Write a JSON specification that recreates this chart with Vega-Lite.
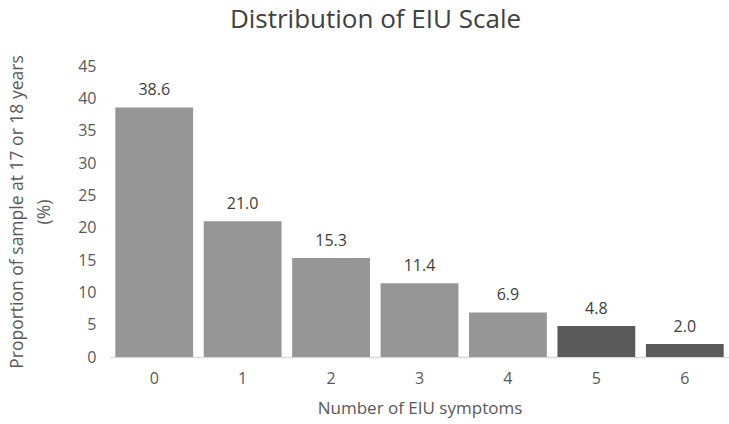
{
  "$schema": "https://vega.github.io/schema/vega-lite/v6.json",
  "autosize": "none",
  "width": 619,
  "height": 291,
  "padding": {"left": 110, "top": 66, "right": 0, "bottom": 67},
  "background": "white",
  "title": {"text": "Distribution of EIU Scale", "font": "Open Sans", "fontSize": 26, "fontWeight": "normal", "color": "#404040", "dx": -44, "offset": 22},
  "data": {"values": [
    {"symptoms": "0", "pct": 38.6, "group": "a"},
    {"symptoms": "1", "pct": 21.0, "group": "a"},
    {"symptoms": "2", "pct": 15.3, "group": "a"},
    {"symptoms": "3", "pct": 11.4, "group": "a"},
    {"symptoms": "4", "pct": 6.9, "group": "a"},
    {"symptoms": "5", "pct": 4.8, "group": "b"},
    {"symptoms": "6", "pct": 2.0, "group": "b"}
  ]},
  "config": {"view": {"stroke": null}, "font": "Open Sans"},
  "encoding": {
    "x": {"field": "symptoms", "type": "nominal", "sort": null, "scale": {"paddingInner": 0.12, "paddingOuter": 0.06},
      "axis": {"title": "Number of EIU symptoms", "labelAngle": 0, "ticks": false, "domain": true, "domainColor": "#d9d9d9", "domainWidth": 1.5, "labelFontSize": 16, "labelColor": "#595959", "labelPadding": 13, "titleFontSize": 17, "titleFontWeight": "normal", "titleColor": "#595959", "titlePadding": 14}},
    "y": {"field": "pct", "type": "quantitative", "scale": {"domain": [0, 45]},
      "axis": {"title": ["Proportion of sample at 17 or 18 years", "(%)"], "values": [0,5,10,15,20,25,30,35,40,45], "grid": false, "ticks": false, "domain": false, "labelFontSize": 16, "labelColor": "#595959", "labelPadding": 14, "titleFontSize": 17.5, "titleFontWeight": "normal", "titleColor": "#595959", "titleLineHeight": 27, "titlePadding": 24}}
  },
  "layer": [
    {"mark": {"type": "bar"}, "encoding": {"color": {"field": "group", "type": "nominal", "scale": {"domain": ["a", "b"], "range": ["#969696", "#5a5a5a"]}, "legend": null}}},
    {"mark": {"type": "text", "dy": -17, "fontSize": 16, "color": "#404040"}, "encoding": {"text": {"field": "pct", "type": "quantitative", "format": ".1f"}}}
  ]
}
